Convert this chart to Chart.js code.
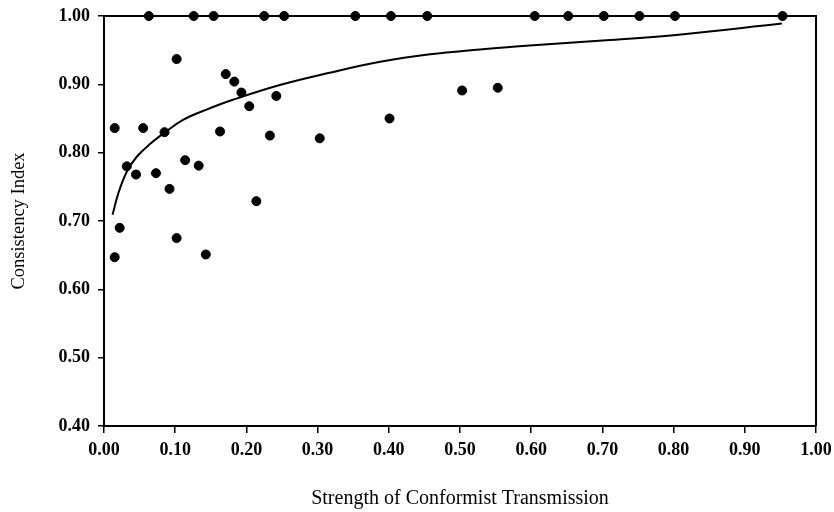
<!DOCTYPE html>
<html>
<head>
<meta charset="utf-8">
<script src="https://cdn.jsdelivr.net/npm/chart.js@4.4.1/dist/chart.umd.min.js"></script>
<style>
  html, body { margin: 0; padding: 0; background: #fff; }
  #wrap { width: 834px; height: 512px; }
</style>
</head>
<body>
<div id="wrap"><canvas id="chart" width="834" height="512"></canvas></div>
<script>
// Observed points (strength of conformist transmission vs consistency index)
const obsX = [0.063, 0.126, 0.154, 0.225, 0.253, 0.353, 0.403, 0.454, 0.605, 0.652, 0.702, 0.752, 0.802, 0.953,
              0.102, 0.015, 0.055, 0.085, 0.171, 0.183, 0.193, 0.204, 0.242, 0.163, 0.233, 0.303,
              0.032, 0.045, 0.073, 0.114, 0.133, 0.092, 0.214, 0.022, 0.015, 0.102, 0.143,
              0.401, 0.503, 0.553];
const obsY = [1.00, 1.00, 1.00, 1.00, 1.00, 1.00, 1.00, 1.00, 1.00, 1.00, 1.00, 1.00, 1.00, 1.00,
              0.937, 0.836, 0.836, 0.830, 0.915, 0.904, 0.888, 0.868, 0.883, 0.831, 0.825, 0.821,
              0.780, 0.768, 0.770, 0.789, 0.781, 0.747, 0.729, 0.690, 0.647, 0.675, 0.651,
              0.850, 0.891, 0.895];

// Trend curve
const trendX = [0.012, 0.020, 0.032, 0.046, 0.065, 0.086, 0.111, 0.144, 0.180, 0.247, 0.317, 0.388, 0.458, 0.528, 0.598, 0.700, 0.800, 0.952];
const trendY = [0.709, 0.740, 0.772, 0.794, 0.813, 0.830, 0.848, 0.863, 0.877, 0.899, 0.917, 0.933, 0.944, 0.951, 0.957, 0.964, 0.972, 0.989];

const xTitle = 'Strength of Conformist Transmission';
const yTitle = 'Consistency Index';

const serif = "'Liberation Serif', 'DejaVu Serif', serif";

const points = obsX.map((x, i) => ({ x: x, y: obsY[i] }));
const trend = trendX.map((x, i) => ({ x: x, y: trendY[i] }));

// box round the plot (top and right edges)
const frame = {
    id: 'frame',
    afterDraw(chart) {
        const a = chart.chartArea;
        const ctx = chart.ctx;
        ctx.save();
        ctx.strokeStyle = '#000';
        ctx.lineWidth = 2;
        ctx.beginPath();
        ctx.moveTo(a.left, a.top);
        ctx.lineTo(a.right, a.top);
        ctx.lineTo(a.right, a.bottom);
        ctx.stroke();
        ctx.restore();
    }
};

const config = {
    type: 'scatter',
    data: {
        datasets: [{
            label: 'trend',
            data: trend,
            showLine: true,
            borderColor: '#000',
            borderWidth: 2,
            pointRadius: 0,
            tension: 0.4,
            fill: false,
            order: 2
        },
        {
            label: 'observed',
            data: points,
            backgroundColor: '#000',
            borderColor: '#000',
            pointRadius: 4.5,
            pointHoverRadius: 4.5,
            clip: false,
            order: 1
        }]
    },
    options: {
        responsive: false,
        animation: false,
        layout: { padding: { top: 16, right: 18, left: 0, bottom: 0 } },
        plugins: {
            legend: { display: false },
            tooltip: { enabled: false }
        },
        scales: {
            x: {
                type: 'linear',
                position: 'bottom',
                min: 0,
                max: 1,
                afterFit: s => {
                    s.height = 86;
                    s.paddingLeft = 0;
                    s.paddingRight = 0;
                },
                border: { display: true, color: '#000', width: 2 },
                grid: { drawOnChartArea: false, drawTicks: true, tickLength: 7, color: '#000', lineWidth: 1.5 },
                ticks: {
                    stepSize: 0.1,
                    padding: 7,
                    color: '#000',
                    font: { family: serif, size: 18, weight: 'bold' },
                    maxRotation: 0,
                    callback: v => v.toFixed(2)
                },
                title: {
                    display: true,
                    text: xTitle,
                    color: '#000',
                    font: { family: serif, size: 20 },
                    padding: { top: 4, bottom: 1 }
                }
            },
            y: {
                type: 'linear',
                min: 0.4,
                max: 1.0,
                afterFit: s => {
                    s.width = 104;
                    s.paddingTop = 0;
                    s.paddingBottom = 0;
                },
                border: { display: true, color: '#000', width: 2 },
                grid: { drawOnChartArea: false, drawTicks: true, tickLength: 6, color: '#000', lineWidth: 1.5 },
                ticks: {
                    stepSize: 0.1,
                    padding: 8,
                    color: '#000',
                    font: { family: serif, size: 18, weight: 'bold' },
                    callback: v => v.toFixed(2)
                },
                title: {
                    display: true,
                    text: yTitle,
                    color: '#000',
                    font: { family: serif, size: 18.5 },
                    padding: { top: 8, bottom: 4 }
                }
            }
        }
    },
    plugins: [frame]
};

const chart = new Chart(document.getElementById('chart'), config);
</script>
</body>
</html>
